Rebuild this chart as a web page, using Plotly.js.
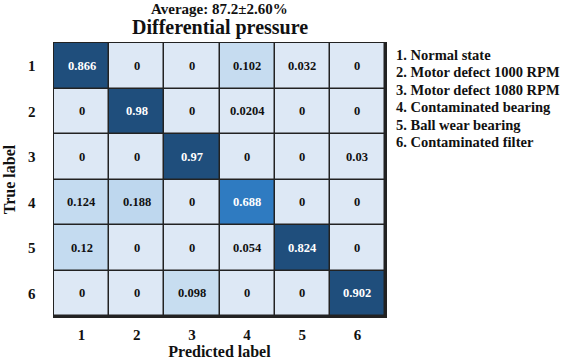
<!DOCTYPE html>
<html>
<head>
<meta charset="utf-8">
<script src="https://cdn.plot.ly/plotly-3.0.1.min.js"></script>
<style>html,body{margin:0;padding:0;background:#fff;}#chart{width:570px;height:361px;}</style>
</head>
<body>
<div id="chart"></div>
<script>
const predictedLabels = ['1', '2', '3', '4', '5', '6'];
const trueLabels = ['1', '2', '3', '4', '5', '6'];
const row1 = [0.866, 0, 0, 0.102, 0.032, 0];
const row2 = [0, 0.98, 0, 0.0204, 0, 0];
const row3 = [0, 0, 0.97, 0, 0, 0.03];
const row4 = [0.124, 0.188, 0, 0.688, 0, 0];
const row5 = [0.12, 0, 0, 0.054, 0.824, 0];
const row6 = [0, 0, 0.098, 0, 0, 0.902];
const matrix = [row1, row2, row3, row4, row5, row6];
const classNames = ['1. Normal state', '2. Motor defect 1000 RPM', '3. Motor defect 1080 RPM',
  '4. Contaminated bearing', '5. Ball wear bearing', '6. Contaminated filter'];
const titleText = 'Differential pressure';
const subtitleText = 'Average: 87.2\u00b12.60%';

const FONT = 'Liberation Serif, Times New Roman, serif';
const textColors = matrix.map(r => r.map(v => v > 0.5 ? '#ffffff' : '#111111'));

const annotations = [];
matrix.forEach((r, i) => r.forEach((v, j) => {
  annotations.push({x: j, y: i, xref: 'x', yref: 'y', text: '<b>' + v + '</b>',
    showarrow: false, font: {family: FONT, size: 12.5, color: textColors[i][j]}});
}));
classNames.forEach((t, k) => {
  annotations.push({xref: 'paper', yref: 'paper', x: 1.028, xanchor: 'left', y: 0.956 - k * 0.064, yanchor: 'middle',
    text: '<b>' + t + '</b>', showarrow: false, align: 'left', font: {family: FONT, size: 14.5, color: '#111'}});
});
annotations.push({xref: 'paper', yref: 'paper', x: 0.5, y: 1.055, yanchor: 'middle', showarrow: false,
  text: '<b>' + titleText + '</b>', font: {family: FONT, size: 20, color: '#111'}});
annotations.push({xref: 'paper', yref: 'paper', x: 0.5, y: 1.126, yanchor: 'middle', showarrow: false,
  text: '<b>' + subtitleText + '</b>', font: {family: FONT, size: 15, color: '#111'}});

const trace = {
  type: 'heatmap', x: predictedLabels, y: trueLabels, z: matrix,
  zmin: 0, zmax: 1, showscale: false, xgap: 1.5, ygap: 1.5, hoverinfo: 'skip',
  colorscale: [[0, '#dde8f5'], [0.06, '#dde8f5'], [0.1, '#c6dcf0'], [0.2, '#bdd6ee'],
               [0.5, '#6ea3d6'], [0.69, '#2e7bc1'], [0.8, '#1f4e7c'], [1, '#1f4e7c']]
};

const layout = {
  width: 570, height: 361,
  margin: {l: 54, r: 185, t: 43, b: 45},
  paper_bgcolor: '#ffffff', plot_bgcolor: '#222222',
  font: {family: FONT, color: '#111'},
  xaxis: {type: 'category', showgrid: false, zeroline: false, ticks: '', ticklen: 0, ticklabelstandoff: 4,
    tickfont: {family: FONT, size: 15, weight: 'bold', color: '#111'},
    showline: true, mirror: true, linecolor: '#222', linewidth: 1.5,
    title: {text: '<b>Predicted label</b>', font: {family: FONT, size: 16, color: '#111'}, standoff: 4}},
  yaxis: {type: 'category', autorange: 'reversed', showgrid: false, zeroline: false, ticks: '',
    tickfont: {family: FONT, size: 15, weight: 'bold', color: '#111'},
    showline: true, mirror: true, linecolor: '#222', linewidth: 1.5, ticklabelstandoff: 14,
    title: {text: '<b>True label</b>', font: {family: FONT, size: 16, color: '#111'}, standoff: 8}},
  annotations: annotations
};

Plotly.newPlot('chart', [trace], layout, {displayModeBar: false, staticPlot: true});
</script>
</body>
</html>
